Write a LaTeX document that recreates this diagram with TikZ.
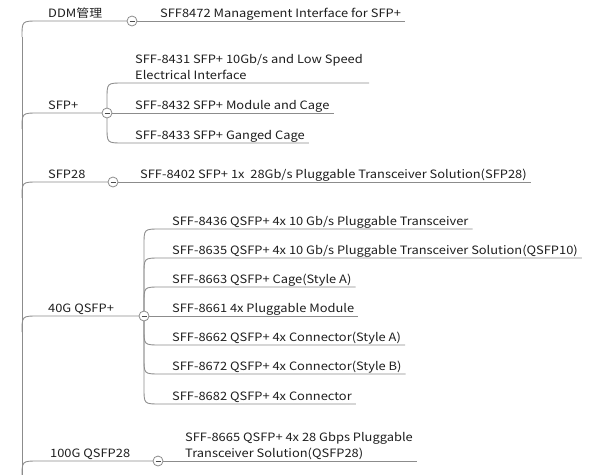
\documentclass[tikz,border=0pt]{standalone}
\usepackage{fontspec}
\setmainfont[FakeStretch=1.12]{Noto Sans CJK SC}
\usetikzlibrary{calc}
\definecolor{lg}{RGB}{140,140,140}
\definecolor{tx}{RGB}{30,30,30}
\tikzset{
  lab/.style={anchor=base west, inner sep=0pt, text=tx, align=left, font=\fontsize{11.5}{15.5}\selectfont},
  ln/.style={draw=lg, line width=0.9pt},
  tog/.style={circle, draw=lg, fill=white, line width=0.8pt, minimum size=10pt, inner sep=0pt,
    path picture={\draw[tx!80, line width=0.9pt] ([xshift=-2.5pt]path picture bounding box.center) -- ([xshift=2.5pt]path picture bounding box.center);}},
}
\begin{document}
\begin{tikzpicture}[x=1pt,y=-1pt]
\useasboundingbox (0,0) rectangle (610,474);
% ---------- text nodes ----------
\node[lab] (ddm) at (48,17) {DDM管理};
\node[lab] (s8472) at (160,17) {SFF8472 Management Interface for SFP+};
\node[lab] (sfpp) at (48,109) {SFP+};
\node[lab] (s8431) at (135,79) {SFF-8431 SFP+ 10Gb/s and Low Speed\\Electrical Interface};
\node[lab] (s8432) at (135,109) {SFF-8432 SFP+ Module and Cage};
\node[lab] (s8433) at (135,139) {SFF-8433 SFP+ Ganged Cage};
\node[lab] (sfp28) at (48,178) {SFP28};
\node[lab] (s8402) at (140,178) {SFF-8402 SFP+ 1x\ \ 28Gb/s Pluggable Transceiver Solution(SFP28)};
\node[lab] (q40) at (48,312) {40G QSFP+};
\node[lab] (s8436) at (172,225) {SFF-8436 QSFP+ 4x 10 Gb/s Pluggable Transceiver};
\node[lab] (s8635) at (172,254) {SFF-8635 QSFP+ 4x 10 Gb/s Pluggable Transceiver Solution(QSFP10)};
\node[lab] (s8663) at (172,283) {SFF-8663 QSFP+ Cage(Style A)};
\node[lab] (s8661) at (172,312) {SFF-8661 4x Pluggable Module};
\node[lab] (s8662) at (172,341) {SFF-8662 QSFP+ 4x Connector(Style A)};
\node[lab] (s8672) at (172,370) {SFF-8672 QSFP+ 4x Connector(Style B)};
\node[lab] (s8682) at (172,400) {SFF-8682 QSFP+ 4x Connector};
\node[lab] (q100) at (50,457) {100G QSFP28};
\node[lab] (s8665) at (185,457) {SFF-8665 QSFP+ 4x 28 Gbps Pluggable\\Transceiver Solution(QSFP28)};
% ---------- underline end points ----------
\coordinate (e8472) at ($(s8472.base east)+(4,4)$);
\coordinate (e8431) at ($(s8431.east |- 0,83)+(6,0)$);
\coordinate (e8432) at ($(s8432.base east)+(4,4)$);
\coordinate (e8433) at ($(s8433.base east)+(4,4)$);
\coordinate (e8402) at ($(s8402.base east)+(4,4)$);
\coordinate (e8436) at ($(s8436.base east)+(4,4)$);
\coordinate (e8635) at ($(s8635.base east)+(4,4)$);
\coordinate (e8663) at ($(s8663.base east)+(4,4)$);
\coordinate (e8661) at ($(s8661.base east)+(4,4)$);
\coordinate (e8662) at ($(s8662.base east)+(4,4)$);
\coordinate (e8672) at ($(s8672.base east)+(4,4)$);
\coordinate (e8682) at ($(s8682.base east)+(4,4)$);
\coordinate (e8665) at ($(s8665.east |- 0,461)+(4,0)$);
% ---------- trunk ----------
\coordinate (tTop) at (22,37);
\coordinate (tBot) at (22,480);
% ---------- connectors ----------
\draw[ln] (tTop) -- (tBot);
\draw[ln] (tTop) .. controls (22,21) .. (38,21) -- (132,21);
\draw[ln] (132,21) -- (e8472);
\draw[ln] (22,129) .. controls (22,113) .. (38,113) -- (107,113);
\draw[ln] (107,113) -- (107,99) .. controls (107,83) .. (123,83) -- (e8431);
\draw[ln] (107,113) -- (e8432);
\draw[ln] (107,113) -- (107,127) .. controls (107,143) .. (123,143) -- (e8433);
\draw[ln] (22,198) .. controls (22,182) .. (38,182) -- (113,182);
\draw[ln] (113,182) -- (e8402);
\draw[ln] (22,332) .. controls (22,316) .. (38,316) -- (144,316);
\draw[ln] (144,316) -- (144,245) .. controls (144,229) .. (160,229) -- (e8436);
\draw[ln] (144,316) -- (144,274) .. controls (144,258) .. (160,258) -- (e8635);
\draw[ln] (144,316) -- (144,303) .. controls (144,287) .. (160,287) -- (e8663);
\draw[ln] (144,316) -- (e8661);
\draw[ln] (144,316) -- (144,329) .. controls (144,345) .. (160,345) -- (e8662);
\draw[ln] (144,316) -- (144,358) .. controls (144,374) .. (160,374) -- (e8672);
\draw[ln] (144,316) -- (144,388) .. controls (144,404) .. (160,404) -- (e8682);
\draw[ln] (22,477) .. controls (22,461) .. (38,461) -- (158,461);
\draw[ln] (158,461) -- (e8665);
% collapse toggles on top
\node[tog] (cddm) at (132,21) {};
\node[tog] (csfp) at (107,113) {};
\node[tog] (c28) at (113,182) {};
\node[tog] (c40) at (144,316) {};
\node[tog] (c100) at (158,461) {};
\end{tikzpicture}
\end{document}
